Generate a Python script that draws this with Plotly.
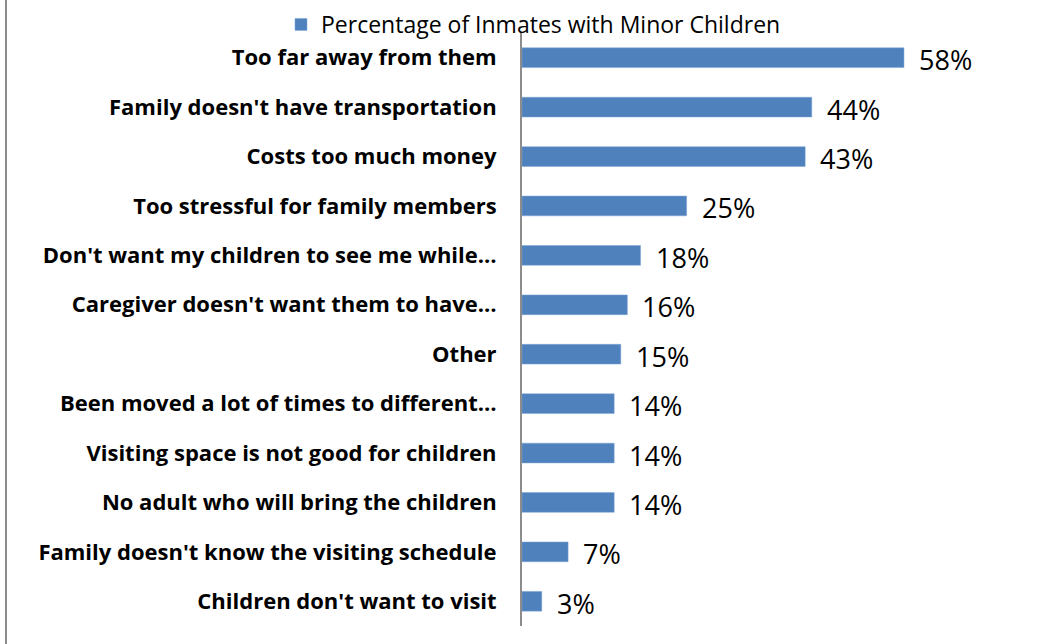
import plotly.graph_objects as go

categories = [
    "Too far away from them",
    "Family doesn't have transportation",
    "Costs too much money",
    "Too stressful for family members",
    "Don't want my children to see me while…",
    "Caregiver doesn't want them to have…",
    "Other",
    "Been moved a lot of times to different…",
    "Visiting space is not good for children",
    "No adult who will bring the children",
    "Family doesn't know the visiting schedule",
    "Children don't want to visit",
]
values = [58, 44, 43, 25, 18, 16, 15, 14, 14, 14, 7, 3]
series_name = "Percentage of Inmates with Minor Children"

W, H = 1061, 644
BAR_COLOR = "#4F81BD"
FONT = "Open Sans"

fig = go.Figure()
fig.add_trace(go.Bar(
    y=categories,
    x=values,
    orientation="h",
    name=series_name,
    marker=dict(color=BAR_COLOR, line=dict(color="#7FA6D6", width=0.5)),
    width=0.4,
    showlegend=True,
))

# value labels to the right of each bar
for c, v in zip(categories, values):
    fig.add_annotation(
        x=v, y=c, text=f"{v}%", showarrow=False,
        xanchor="left", yanchor="middle", xshift=13, yshift=-2,
        font=dict(family=FONT, size=27, color="#000000"),
    )

# chart frame edge on the left
fig.add_shape(type="line", xref="paper", yref="paper",
              x0=-(522 - 6) / 461, x1=-(522 - 6) / 461,
              y0=-1, y1=2, line=dict(color="#8C8C8C", width=2))

fig.update_layout(
    width=W, height=H,
    margin=dict(l=522, r=78, t=33, b=18, autoexpand=False),
    paper_bgcolor="white", plot_bgcolor="white",
    font=dict(family=FONT, color="#000000"),
    showlegend=True,
    legend=dict(
        orientation="h", x=281 / W, xref="container", xanchor="left",
        y=1 - 3 / H, yref="container", yanchor="top",
        font=dict(family=FONT, size=23, color="#000000"),
        bgcolor="rgba(0,0,0,0)",
    ),
    xaxis=dict(range=[0, 70], visible=False, showgrid=False, zeroline=False),
    yaxis=dict(
        categoryorder="array", categoryarray=categories[::-1],
        showline=True, linecolor="#8C8C8C", linewidth=2,
        ticks="", showgrid=False,
        ticklabelstandoff=19,
        tickfont=dict(family=FONT, size=22, color="#000000", weight="bold"),
    ),
    bargap=0.6,
)

fig.write_html("out.html")
